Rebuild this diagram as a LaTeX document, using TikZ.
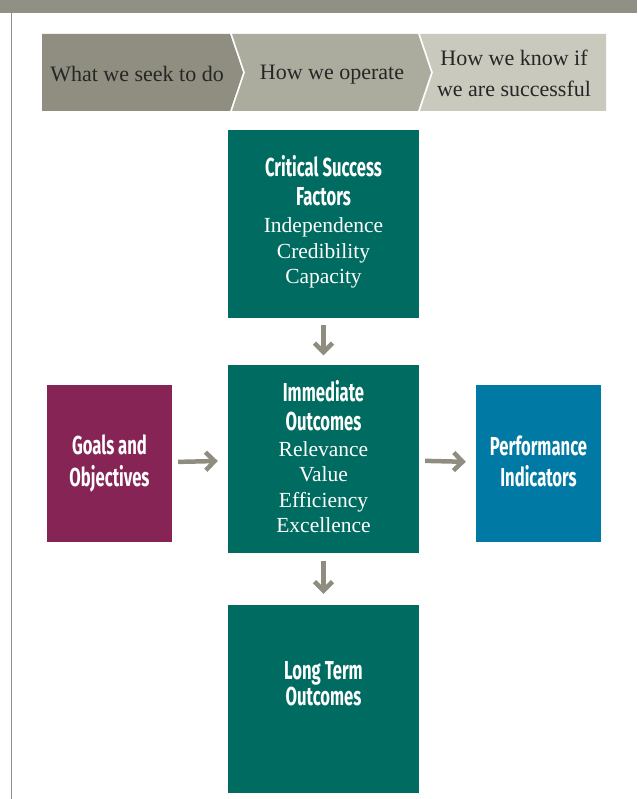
\documentclass[tikz,border=0pt]{standalone}
\usepackage{fontspec}
\setmainfont{Liberation Serif}
\newfontfamily\headfont[FakeStretch=0.64]{Fira Sans}
\usetikzlibrary{arrows.meta}
\definecolor{bandgray}{RGB}{145,144,132}
\definecolor{stepdark}{RGB}{143,142,128}
\definecolor{stepmid}{RGB}{172,172,158}
\definecolor{steplight}{RGB}{201,201,190}
\definecolor{boxteal}{RGB}{0,107,96}
\definecolor{goalpurple}{RGB}{135,36,86}
\definecolor{perfblue}{RGB}{0,122,164}
\definecolor{arrowgray}{RGB}{142,141,127}
\newcommand\boxhead{\headfont\bfseries\fontsize{26}{29}\selectfont}
\newcommand\boxbody{\normalfont\fontsize{21.5}{25.5}\selectfont}
\tikzset{
  box/.style={fill=#1, text=white, align=center, inner sep=0pt, font=\boxhead},
  bigbox/.style={box=#1, minimum width=191pt, minimum height=188pt},
  sidebox/.style={box=#1, minimum width=125pt, minimum height=157pt},
  steptext/.style={align=center, font=\fontsize{22}{31}\selectfont, text=black!85},
  flow/.style={draw=arrowgray, line width=4.5pt, -{Straight Barb[length=9pt,width=18pt]}}
}
\begin{document}
\begin{tikzpicture}[x=1pt,y=-1pt]
\useasboundingbox (0,0) rectangle (637,799);
\fill[bandgray] (0,0) rectangle (637,13);
\draw[bandgray, line width=1.5pt] (11.5,13) -- (11.5,799);
\fill[stepdark] (42,34) -- (230,34) -- (243,72.5) -- (230,111) -- (42,111) -- cycle;
\fill[stepmid] (232,34) -- (418,34) -- (431,72.5) -- (418,111) -- (232,111) -- (245,72.5) -- cycle;
\fill[steplight] (420,34) -- (606,34) -- (606,111) -- (420,111) -- (433,72.5) -- cycle;
\node[steptext](what) at (137,74) {What we seek to do};
\node[steptext](how) at (332,75) {How we operate};
\node[steptext](know) at (514,73) {How we know if\\we are successful};
\node[bigbox=boxteal, text depth=9pt](csf) at (323.5,224) {Critical Success\\Factors\\[-2pt]
  \boxbody Independence\\[-3.5pt]\boxbody Credibility\\[-3.5pt]\boxbody Capacity};
\node[bigbox=boxteal, text depth=4pt](imm) at (323.5,458.5) {Immediate\\Outcomes\\[-3pt]
  \boxbody Relevance\\[-3.5pt]\boxbody Value\\[-3.5pt]\boxbody Efficiency\\[-3.5pt]\boxbody Excellence};
\node[bigbox=boxteal, text depth=32pt](lto) at (323.5,699) {Long Term\\[-3pt]Outcomes};
\node[sidebox=goalpurple](goal) at (109.5,463.5) {Goals and\\[3pt]Objectives};
\node[sidebox=perfblue, text depth=5pt](perf) at (538.5,463.5) {Performance\\[2pt]Indicators};
\draw[flow, shorten <=7pt, shorten >=9pt] (csf) -- (imm);
\draw[flow, shorten <=6pt, shorten >=10pt] (goal) -- (imm);
\draw[flow, shorten <=6pt, shorten >=10pt] (imm) -- (perf);
\draw[flow, shorten <=8pt, shorten >=11pt] (imm) -- (lto);
\end{tikzpicture}
\end{document}
